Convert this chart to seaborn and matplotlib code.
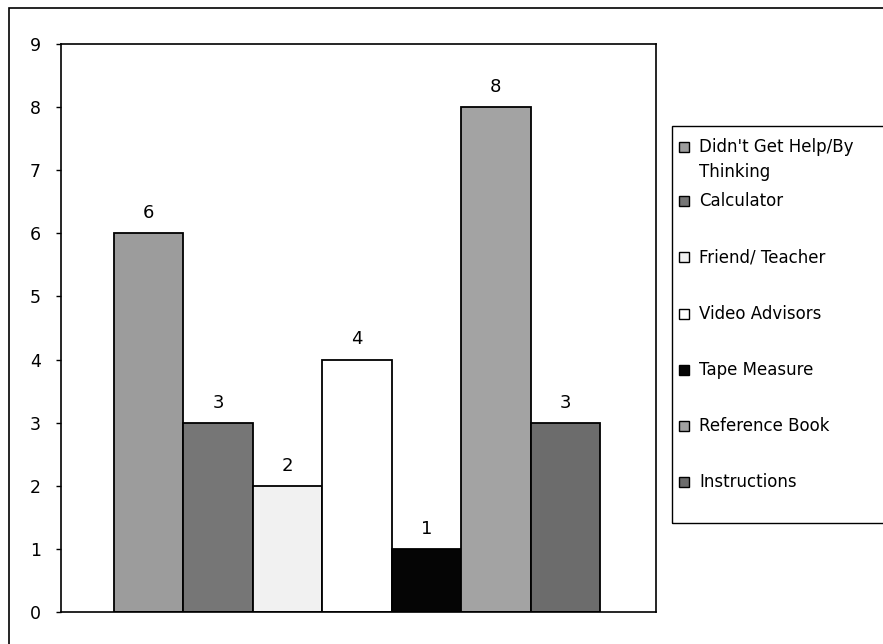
import matplotlib
matplotlib.use("Agg")
import matplotlib.pyplot as plt
from matplotlib.patches import Rectangle
import pandas as pd
import seaborn as sns

# Sources of help used, and how many times each was named
sources = [
    "Didn't Get Help/By\nThinking",
    "Calculator",
    "Friend/ Teacher",
    "Video Advisors",
    "Tape Measure",
    "Reference Book",
    "Instructions",
]
counts = [6, 3, 2, 4, 1, 8, 3]
fills = ["#9c9c9c", "#767676", "#f1f1f1", "#ffffff", "#050505", "#a3a3a3", "#6c6c6c"]
y_ticks = list(range(0, 10))

df = pd.DataFrame({"source": sources, "count": counts})

sns.set_theme(style="white")
plt.rcParams["font.family"] = ["DejaVu Sans"]

W, H = 883, 644
fig = plt.figure(figsize=(W / 100, H / 100), dpi=100)
fig.patch.set_facecolor("white")


def fx(px):
    return px / W


def fy(py):
    return 1 - py / H


ax = fig.add_axes([fx(61), fy(612), fx(656) - fx(61), fy(44) - fy(612)])

sns.barplot(
    data=df, x="source", y="count", hue="source",
    palette=fills, width=1.0, edgecolor="black", linewidth=1.3,
    legend=False, ax=ax,
)

for cont in ax.containers:
    ax.bar_label(cont, fmt="%d", padding=8, fontsize=13, color="black")

ax.set_xlim(-1.263, 7.307)
ax.set_ylim(0, 9)
ax.set_yticks(y_ticks)
ax.set_yticklabels([str(t) for t in y_ticks], fontsize=12.5, color="black")
ax.set_xticks([])
ax.set_xlabel("")
ax.set_ylabel("")
ax.tick_params(axis="y", left=True, length=3.5, width=1, pad=11, direction="out", color="black")
for sp in ax.spines.values():
    sp.set_visible(True)
    sp.set_color("black")
    sp.set_linewidth(1.2)

# Outer chart border (its left and top edges fall inside the canvas)
fig.patches.append(Rectangle((fx(9), -0.2), 1.2, fy(8) + 0.2, transform=fig.transFigure,
                             fill=False, edgecolor="black", linewidth=1.2))

# Legend panel to the right of the plot
fig.patches.append(Rectangle((fx(672), fy(523)), 1.2, fy(126) - fy(523), transform=fig.transFigure,
                             fill=False, edgecolor="black", linewidth=1.0))
entry_y = [147, 201, 257, 314, 370, 426, 482]
for label, color, yy in zip(sources, fills, entry_y):
    fig.patches.append(Rectangle((fx(679), fy(yy + 5)), fx(10), fy(yy - 5) - fy(yy + 5),
                                 transform=fig.transFigure, facecolor=color,
                                 edgecolor="black", linewidth=1.0))
    for k, line in enumerate(label.split("\n")):
        fig.text(fx(699), fy(yy + 25 * k), line, fontsize=12, va="center", ha="left", color="black")

fig.savefig("out.png", dpi=100, facecolor="white")
